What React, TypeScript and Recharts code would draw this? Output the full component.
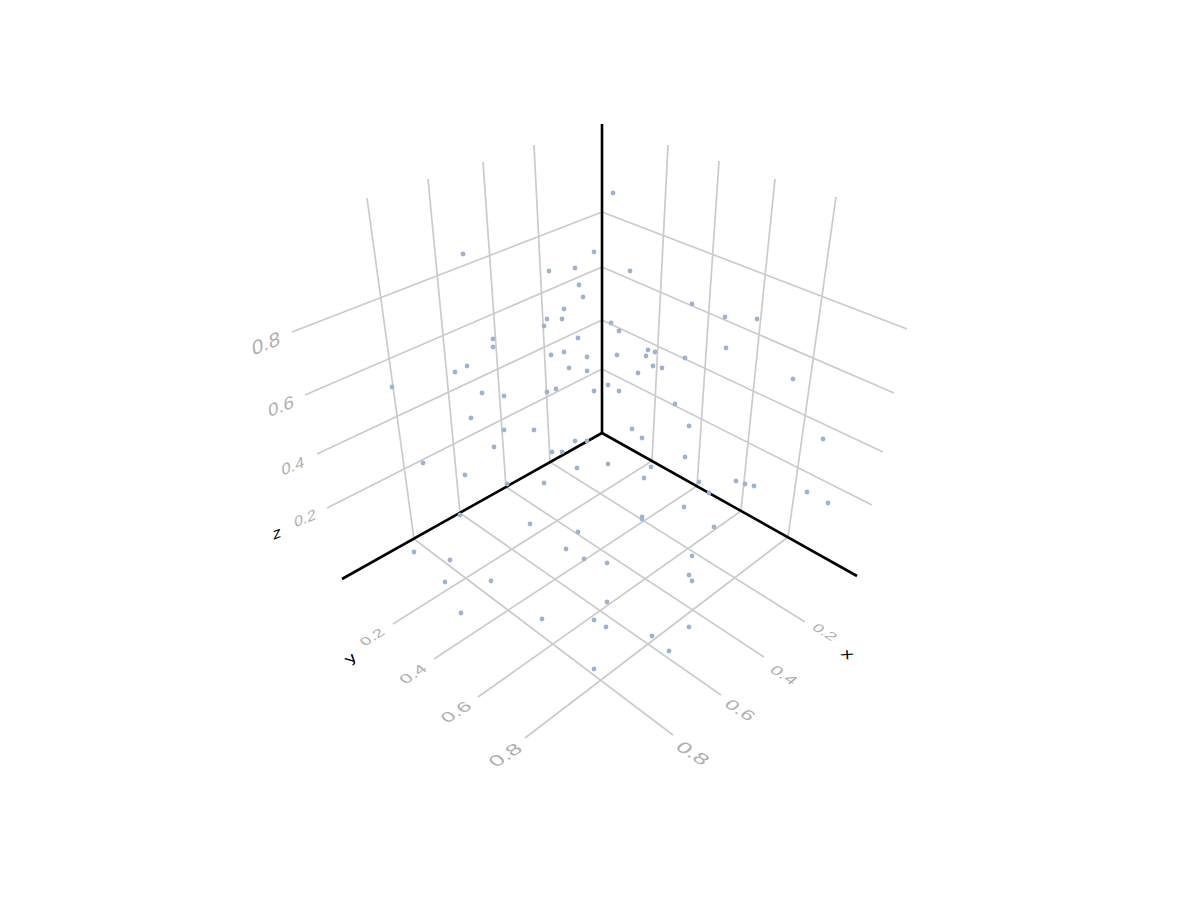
import React from "react";
import { ScatterChart, Scatter, XAxis, YAxis } from "recharts";

type P = { x: number; y: number };
type Lab = P & { text: string; size: number; m: number[]; color: string };

// projected sample positions
const pointX = [613,594,463,549,575,630,579,583,692,564,725,757,547,562,544,611,619,493,493,578,726,564,551,587,617,648,655,646,685,467,455,569,587,653,662,638,793,392,482,504,556,547,594,608,619,675,471,504,534,632,689,642,823,575,587,494,552,562,423,685,608,577,651,465,644,544,507,699,736,745,754,709,807,684,828,460,642,642,530,578,714,566,414,692,584,450,607,689,692,491,445,607,461,542,594,606,689,652,669,594];
const pointY = [193,252,254,271,268,271,285,297,304,309,317,319,319,319,326,323,331,339,347,338,348,352,355,357,355,350,352,356,358,366,372,368,371,366,368,373,379,387,393,396,389,392,391,385,391,404,418,430,430,429,426,438,439,441,441,447,452,452,463,457,464,468,467,475,478,483,484,482,481,484,486,493,492,507,503,515,517,519,524,532,527,549,552,556,559,560,563,575,581,581,582,602,613,619,620,627,627,636,651,669];

const points: P[] = pointX.map((x, i) => ({ x, y: pointY[i] }));

const axisSegments: number[][] = [
  [602, 124, 602, 433],
  [602, 433, 342, 579],
  [602, 433, 857, 576],
];

const gridSegments: number[][] = [
  // z lines, left wall
  [602, 212, 292, 332], [602, 267, 305, 395], [602, 320, 317, 454], [602, 369, 327, 508],
  // z lines, right wall
  [602, 212, 907, 329], [602, 267, 894, 393], [602, 320, 883, 452], [602, 369, 872, 505],
  // left wall verticals
  [534, 145, 550, 462], [483, 162, 506, 487], [428, 179, 460, 513], [367, 198, 414, 539],
  // right wall verticals
  [668, 145, 652, 461], [719, 161, 697, 486], [775, 179, 741, 511], [836, 197, 788, 537],
  // floor, y ticks
  [652, 461, 393, 624], [697, 486, 434, 659], [741, 511, 478, 697], [788, 537, 525, 738],
  // floor, x ticks
  [550, 462, 805, 622], [506, 487, 764, 657], [460, 513, 721, 695], [414, 539, 673, 735],
];

const zMatrix = [0.95, -0.38, 0.06, 0.95];
const yMatrix = [0.88, -0.56, 0.58, 0.5];
const xMatrix = [0.88, 0.56, -0.58, 0.5];
const tick = "#b0b0b0";

const labels: Lab[] = [
  { x: 266, y: 343, text: "0.8", size: 21, m: zMatrix, color: tick },
  { x: 281, y: 406, text: "0.6", size: 19, m: zMatrix, color: tick },
  { x: 293, y: 466, text: "0.4", size: 17, m: zMatrix, color: tick },
  { x: 305, y: 518, text: "0.2", size: 16, m: zMatrix, color: tick },
  { x: 277, y: 533, text: "z", size: 17, m: zMatrix, color: "#000" },
  { x: 372, y: 637, text: "0.2", size: 17, m: yMatrix, color: tick },
  { x: 413, y: 674, text: "0.4", size: 19, m: yMatrix, color: tick },
  { x: 456, y: 712, text: "0.6", size: 21, m: yMatrix, color: tick },
  { x: 505, y: 755, text: "0.8", size: 23, m: yMatrix, color: tick },
  { x: 350, y: 658, text: "y", size: 19, m: yMatrix, color: "#000" },
  { x: 825, y: 632, text: "0.2", size: 17, m: xMatrix, color: tick },
  { x: 784, y: 675, text: "0.4", size: 19, m: xMatrix, color: tick },
  { x: 740, y: 710, text: "0.6", size: 21, m: xMatrix, color: tick },
  { x: 693, y: 753, text: "0.8", size: 23, m: xMatrix, color: tick },
  { x: 848, y: 654, text: "x", size: 19, m: xMatrix, color: "#000" },
];

const Dot = (p: any) => <circle cx={p.cx} cy={p.cy} r={2.4} fill="#9db3cf" />;
const NoDot = () => null;
const Label = (p: any) => {
  const l: Lab = p.payload;
  const [a, b, c, d] = l.m;
  return (
    <text
      transform={`matrix(${a} ${b} ${c} ${d} ${p.cx} ${p.cy})`}
      textAnchor="middle"
      dominantBaseline="central"
      fontFamily="Liberation Sans, Arial, sans-serif"
      fontSize={l.size}
      fill={l.color}
    >
      {l.text}
    </text>
  );
};

const seg = (s: number[]): P[] => [{ x: s[0], y: s[1] }, { x: s[2], y: s[3] }];

export default function App() {
  return (
    <div style={{ position: "absolute", left: 0, top: 0, width: 1200, height: 900, background: "#fff" }}>
      <ScatterChart width={1200} height={900} margin={{ top: 0, right: 0, bottom: 0, left: 0 }}>
        <XAxis type="number" dataKey="x" domain={[0, 1200]} hide />
        <YAxis type="number" dataKey="y" domain={[0, 900]} reversed hide />
        {gridSegments.map((s, i) => (
          <Scatter key={`g${i}`} data={seg(s)} line={{ stroke: "#cbcbcb", strokeWidth: 1.7 }} shape={NoDot} isAnimationActive={false} />
        ))}
        {axisSegments.map((s, i) => (
          <Scatter key={`a${i}`} data={seg(s)} line={{ stroke: "#000", strokeWidth: 2.6 }} shape={NoDot} isAnimationActive={false} />
        ))}
        <Scatter data={points} shape={Dot} isAnimationActive={false} />
        <Scatter data={labels} shape={Label} isAnimationActive={false} />
      </ScatterChart>
    </div>
  );
}
